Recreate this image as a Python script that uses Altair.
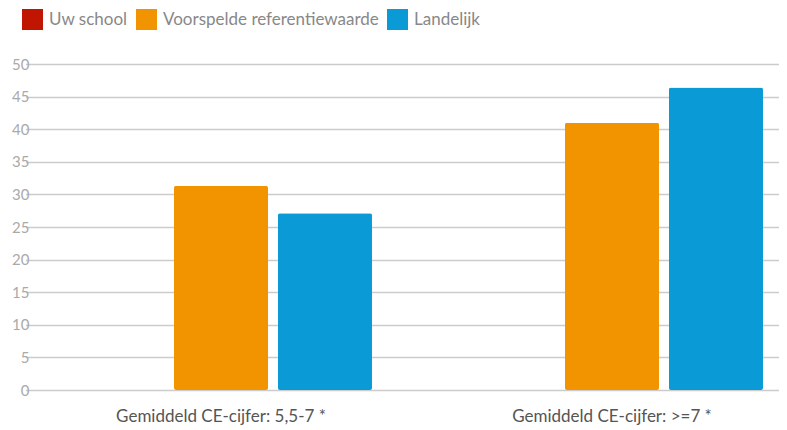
import altair as alt
import pandas as pd

categories = ["Gemiddeld CE-cijfer: 5,5-7 *", "Gemiddeld CE-cijfer: >=7 *"]
series = ["Uw school", "Voorspelde referentiewaarde", "Landelijk"]
uw_school = [0, 0]
voorspeld = [31.3, 41.0]
landelijk = [27.1, 46.4]
colors = ["#C01500", "#F29400", "#0A9BD6"]
y_ticks = [0, 5, 10, 15, 20, 25, 30, 35, 40, 45, 50]

rows = []
for i, c in enumerate(categories):
    for s, vals in zip(series, [uw_school, voorspeld, landelijk]):
        rows.append({"categorie": c, "reeks": s, "waarde": vals[i]})
df = pd.DataFrame(rows)

FONT = "Lato"

chart = alt.Chart(df).mark_bar(cornerRadius=2).encode(
    x=alt.X("categorie:N", sort=categories, title=None,
            scale=alt.Scale(range=[-11.5, 770.5], paddingInner=0, paddingOuter=0),
            axis=alt.Axis(labelAngle=0, labelFontSize=17, labelColor="#555555",
                          labelFont=FONT, ticks=False, domain=False, labelPadding=18,
                          labelLimit=0, grid=False)),
    xOffset=alt.XOffset("reeks:N", sort=series,
                        scale=alt.Scale(paddingInner=0.096, paddingOuter=0.428)),
    y=alt.Y("waarde:Q", title=None,
            scale=alt.Scale(domain=[0, 50], nice=False),
            axis=alt.Axis(values=y_ticks, labelFontSize=15, labelColor="#aaaaaa",
                          labelFont=FONT, ticks=False, domain=False, labelPadding=8,
                          grid=True, gridColor="#cccccc", gridWidth=1.5)),
    color=alt.Color("reeks:N", sort=series,
                    scale=alt.Scale(domain=series, range=colors),
                    legend=alt.Legend(title=None, orient="none", legendX=-15, legendY=-55,
                                      direction="horizontal", symbolType="square",
                                      symbolSize=441, symbolStrokeWidth=0,
                                      labelFontSize=17, labelColor="#888888",
                                      labelFont=FONT, labelLimit=0,
                                      columnPadding=8, labelOffset=6)),
).properties(
    width=742, height=326,
    autosize=alt.AutoSizeParams(type="none"),
    padding={"left": 29, "top": 56, "right": 0, "bottom": 40},
).configure_view(stroke=None)

chart.save("out.html", embed_options={"renderer": "svg", "actions": False})
